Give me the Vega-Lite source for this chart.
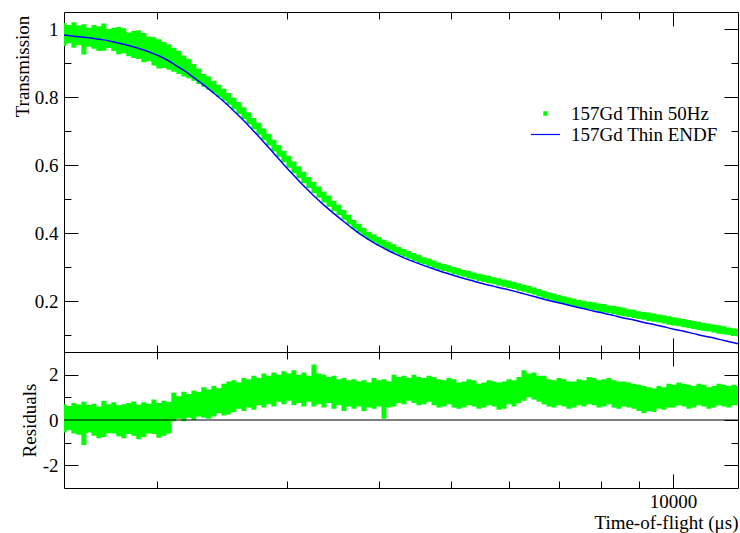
{
  "$schema": "https://vega.github.io/schema/vega-lite/v6.json",
  "width": 674,
  "height": 476,
  "autosize": {"type": "none"},
  "padding": {"left": 64, "top": 12, "right": 2, "bottom": 45},
  "background": "white",
  "config": {
    "view": {"stroke": null},
    "font": "Liberation Serif",
    "axis": {
      "grid": false,
      "domainColor": "black",
      "domainWidth": 1,
      "tickColor": "black",
      "tickWidth": 1,
      "labelFont": "Liberation Serif",
      "labelFontSize": 19,
      "labelColor": "black",
      "titleFont": "Liberation Serif",
      "titleFontSize": 19,
      "titleFontWeight": "normal",
      "titleColor": "black"
    }
  },
  "datasets": {
    "model": [
      {"t": 1496, "m": 0.982}, {"t": 1543, "m": 0.979}, {"t": 1592, "m": 0.976}, {"t": 1642, "m": 0.972},
      {"t": 1694, "m": 0.968}, {"t": 1747, "m": 0.962}, {"t": 1803, "m": 0.955}, {"t": 1860, "m": 0.947},
      {"t": 1919, "m": 0.938}, {"t": 1980, "m": 0.927}, {"t": 2043, "m": 0.914}, {"t": 2107, "m": 0.897},
      {"t": 2174, "m": 0.878}, {"t": 2243, "m": 0.857}, {"t": 2314, "m": 0.835}, {"t": 2388, "m": 0.811},
      {"t": 2464, "m": 0.786}, {"t": 2542, "m": 0.759}, {"t": 2622, "m": 0.730}, {"t": 2705, "m": 0.699},
      {"t": 2791, "m": 0.667}, {"t": 2880, "m": 0.634}, {"t": 2971, "m": 0.601}, {"t": 3065, "m": 0.569},
      {"t": 3162, "m": 0.538}, {"t": 3263, "m": 0.509}, {"t": 3366, "m": 0.482}, {"t": 3473, "m": 0.457},
      {"t": 3583, "m": 0.433}, {"t": 3697, "m": 0.410}, {"t": 3814, "m": 0.389}, {"t": 3935, "m": 0.371},
      {"t": 4060, "m": 0.355}, {"t": 4188, "m": 0.340}, {"t": 4321, "m": 0.327}, {"t": 4458, "m": 0.315},
      {"t": 4600, "m": 0.304}, {"t": 4745, "m": 0.294}, {"t": 4896, "m": 0.284}, {"t": 5051, "m": 0.275},
      {"t": 5211, "m": 0.266}, {"t": 5377, "m": 0.258}, {"t": 5547, "m": 0.250}, {"t": 5723, "m": 0.243},
      {"t": 5904, "m": 0.236}, {"t": 6092, "m": 0.229}, {"t": 6285, "m": 0.221}, {"t": 6484, "m": 0.213},
      {"t": 6690, "m": 0.205}, {"t": 6902, "m": 0.198}, {"t": 7121, "m": 0.191}, {"t": 7347, "m": 0.184},
      {"t": 7580, "m": 0.177}, {"t": 7821, "m": 0.170}, {"t": 8065, "m": 0.164}, {"t": 8320, "m": 0.157},
      {"t": 8583, "m": 0.150}, {"t": 8855, "m": 0.144}, {"t": 9135, "m": 0.137}, {"t": 9425, "m": 0.131},
      {"t": 9723, "m": 0.124}, {"t": 10031, "m": 0.117}, {"t": 10349, "m": 0.111}, {"t": 10678, "m": 0.104},
      {"t": 11015, "m": 0.097}, {"t": 11365, "m": 0.091}, {"t": 11724, "m": 0.084}, {"t": 12097, "m": 0.077},
      {"t": 12248, "m": 0.074}
    ],
    "band": [
      {"t": 1496, "lo": 0.950, "hi": 1.018, "rlo": -0.55, "rhi": 0.70},
      {"t": 1519, "lo": 0.958, "hi": 1.012, "rlo": -0.45, "rhi": 0.62},
      {"t": 1543, "lo": 0.945, "hi": 1.020, "rlo": -0.60, "rhi": 0.75},
      {"t": 1567, "lo": 0.952, "hi": 1.010, "rlo": -0.65, "rhi": 0.68},
      {"t": 1592, "lo": 0.925, "hi": 1.014, "rlo": -1.10, "rhi": 0.80},
      {"t": 1617, "lo": 0.948, "hi": 1.004, "rlo": -0.55, "rhi": 0.66},
      {"t": 1642, "lo": 0.942, "hi": 1.012, "rlo": -0.70, "rhi": 0.72},
      {"t": 1668, "lo": 0.935, "hi": 1.008, "rlo": -0.80, "rhi": 0.60},
      {"t": 1694, "lo": 0.936, "hi": 1.016, "rlo": -0.75, "rhi": 0.85},
      {"t": 1721, "lo": 0.944, "hi": 1.000, "rlo": -0.58, "rhi": 0.70},
      {"t": 1747, "lo": 0.935, "hi": 1.004, "rlo": -0.60, "rhi": 0.78},
      {"t": 1775, "lo": 0.926, "hi": 1.006, "rlo": -0.72, "rhi": 0.65},
      {"t": 1803, "lo": 0.928, "hi": 1.002, "rlo": -0.80, "rhi": 0.70},
      {"t": 1831, "lo": 0.920, "hi": 0.990, "rlo": -0.62, "rhi": 0.75},
      {"t": 1860, "lo": 0.915, "hi": 0.994, "rlo": -0.70, "rhi": 0.82},
      {"t": 1889, "lo": 0.912, "hi": 0.996, "rlo": -0.85, "rhi": 0.68},
      {"t": 1919, "lo": 0.902, "hi": 0.988, "rlo": -0.75, "rhi": 0.78},
      {"t": 1950, "lo": 0.905, "hi": 0.978, "rlo": -0.60, "rhi": 0.72},
      {"t": 1980, "lo": 0.893, "hi": 0.976, "rlo": -0.62, "rhi": 0.90},
      {"t": 2011, "lo": 0.884, "hi": 0.970, "rlo": -0.78, "rhi": 0.75},
      {"t": 2043, "lo": 0.885, "hi": 0.962, "rlo": -0.70, "rhi": 0.85},
      {"t": 2075, "lo": 0.880, "hi": 0.955, "rlo": -0.60, "rhi": 0.80},
      {"t": 2107, "lo": 0.874, "hi": 0.945, "rlo": -0.05, "rhi": 1.20},
      {"t": 2141, "lo": 0.868, "hi": 0.936, "rlo": 0.05, "rhi": 1.05},
      {"t": 2174, "lo": 0.860, "hi": 0.922, "rlo": -0.05, "rhi": 1.25},
      {"t": 2209, "lo": 0.855, "hi": 0.912, "rlo": 0.10, "rhi": 1.15},
      {"t": 2243, "lo": 0.848, "hi": 0.897, "rlo": 0.00, "rhi": 1.30},
      {"t": 2278, "lo": 0.838, "hi": 0.884, "rlo": 0.15, "rhi": 1.25},
      {"t": 2314, "lo": 0.830, "hi": 0.868, "rlo": 0.10, "rhi": 1.45},
      {"t": 2351, "lo": 0.821, "hi": 0.860, "rlo": 0.05, "rhi": 1.35},
      {"t": 2388, "lo": 0.811, "hi": 0.848, "rlo": 0.15, "rhi": 1.50},
      {"t": 2425, "lo": 0.800, "hi": 0.836, "rlo": 0.30, "rhi": 1.40},
      {"t": 2464, "lo": 0.789, "hi": 0.824, "rlo": 0.20, "rhi": 1.60},
      {"t": 2502, "lo": 0.777, "hi": 0.812, "rlo": 0.25, "rhi": 1.70},
      {"t": 2542, "lo": 0.764, "hi": 0.798, "rlo": 0.35, "rhi": 1.75},
      {"t": 2582, "lo": 0.750, "hi": 0.785, "rlo": 0.50, "rhi": 1.65},
      {"t": 2622, "lo": 0.735, "hi": 0.770, "rlo": 0.40, "rhi": 1.85},
      {"t": 2663, "lo": 0.720, "hi": 0.755, "rlo": 0.55, "rhi": 1.80},
      {"t": 2705, "lo": 0.705, "hi": 0.738, "rlo": 0.45, "rhi": 1.95},
      {"t": 2748, "lo": 0.689, "hi": 0.724, "rlo": 0.65, "rhi": 1.85},
      {"t": 2791, "lo": 0.673, "hi": 0.707, "rlo": 0.55, "rhi": 2.05},
      {"t": 2835, "lo": 0.657, "hi": 0.692, "rlo": 0.70, "rhi": 1.95},
      {"t": 2880, "lo": 0.640, "hi": 0.674, "rlo": 0.60, "rhi": 2.10},
      {"t": 2925, "lo": 0.624, "hi": 0.659, "rlo": 0.80, "rhi": 2.00},
      {"t": 2971, "lo": 0.608, "hi": 0.642, "rlo": 0.70, "rhi": 2.15},
      {"t": 3018, "lo": 0.592, "hi": 0.627, "rlo": 0.85, "rhi": 2.05},
      {"t": 3065, "lo": 0.576, "hi": 0.610, "rlo": 0.65, "rhi": 2.20},
      {"t": 3113, "lo": 0.561, "hi": 0.596, "rlo": 0.75, "rhi": 2.00},
      {"t": 3162, "lo": 0.546, "hi": 0.580, "rlo": 0.60, "rhi": 2.10},
      {"t": 3212, "lo": 0.532, "hi": 0.565, "rlo": 0.80, "rhi": 1.95},
      {"t": 3263, "lo": 0.518, "hi": 0.551, "rlo": 0.60, "rhi": 2.45},
      {"t": 3314, "lo": 0.504, "hi": 0.537, "rlo": 0.70, "rhi": 2.05},
      {"t": 3366, "lo": 0.490, "hi": 0.522, "rlo": 0.55, "rhi": 2.00},
      {"t": 3419, "lo": 0.477, "hi": 0.510, "rlo": 0.75, "rhi": 1.90},
      {"t": 3473, "lo": 0.464, "hi": 0.495, "rlo": 0.50, "rhi": 1.95},
      {"t": 3527, "lo": 0.452, "hi": 0.483, "rlo": 0.65, "rhi": 1.80},
      {"t": 3583, "lo": 0.439, "hi": 0.468, "rlo": 0.40, "rhi": 1.85},
      {"t": 3639, "lo": 0.425, "hi": 0.454, "rlo": 0.60, "rhi": 1.75},
      {"t": 3697, "lo": 0.412, "hi": 0.438, "rlo": 0.50, "rhi": 1.80},
      {"t": 3754, "lo": 0.401, "hi": 0.427, "rlo": 0.60, "rhi": 1.70},
      {"t": 3814, "lo": 0.390, "hi": 0.415, "rlo": 0.40, "rhi": 1.75},
      {"t": 3874, "lo": 0.380, "hi": 0.404, "rlo": 0.55, "rhi": 1.65},
      {"t": 3935, "lo": 0.372, "hi": 0.396, "rlo": 0.50, "rhi": 1.85},
      {"t": 3997, "lo": 0.363, "hi": 0.388, "rlo": 0.60, "rhi": 1.75},
      {"t": 4060, "lo": 0.356, "hi": 0.380, "rlo": 0.05, "rhi": 1.80},
      {"t": 4123, "lo": 0.349, "hi": 0.374, "rlo": 0.55, "rhi": 1.70},
      {"t": 4188, "lo": 0.342, "hi": 0.367, "rlo": 0.60, "rhi": 2.00},
      {"t": 4254, "lo": 0.335, "hi": 0.359, "rlo": 0.75, "rhi": 1.90},
      {"t": 4321, "lo": 0.330, "hi": 0.353, "rlo": 0.70, "rhi": 1.95},
      {"t": 4389, "lo": 0.324, "hi": 0.347, "rlo": 0.85, "rhi": 1.85},
      {"t": 4458, "lo": 0.318, "hi": 0.341, "rlo": 0.75, "rhi": 2.00},
      {"t": 4528, "lo": 0.312, "hi": 0.335, "rlo": 0.65, "rhi": 1.90},
      {"t": 4600, "lo": 0.307, "hi": 0.329, "rlo": 0.70, "rhi": 1.85},
      {"t": 4672, "lo": 0.302, "hi": 0.325, "rlo": 0.80, "rhi": 1.95},
      {"t": 4745, "lo": 0.297, "hi": 0.319, "rlo": 0.65, "rhi": 1.90},
      {"t": 4820, "lo": 0.292, "hi": 0.313, "rlo": 0.55, "rhi": 1.80},
      {"t": 4896, "lo": 0.288, "hi": 0.309, "rlo": 0.60, "rhi": 1.75},
      {"t": 4973, "lo": 0.284, "hi": 0.305, "rlo": 0.70, "rhi": 1.85},
      {"t": 5051, "lo": 0.279, "hi": 0.300, "rlo": 0.55, "rhi": 1.80},
      {"t": 5129, "lo": 0.275, "hi": 0.296, "rlo": 0.50, "rhi": 1.65},
      {"t": 5211, "lo": 0.271, "hi": 0.291, "rlo": 0.55, "rhi": 1.70},
      {"t": 5292, "lo": 0.266, "hi": 0.288, "rlo": 0.65, "rhi": 1.80},
      {"t": 5377, "lo": 0.263, "hi": 0.284, "rlo": 0.60, "rhi": 1.75},
      {"t": 5460, "lo": 0.259, "hi": 0.280, "rlo": 0.50, "rhi": 1.60},
      {"t": 5547, "lo": 0.256, "hi": 0.277, "rlo": 0.55, "rhi": 1.65},
      {"t": 5633, "lo": 0.252, "hi": 0.274, "rlo": 0.65, "rhi": 1.75},
      {"t": 5723, "lo": 0.249, "hi": 0.270, "rlo": 0.60, "rhi": 1.70},
      {"t": 5811, "lo": 0.245, "hi": 0.267, "rlo": 0.45, "rhi": 1.65},
      {"t": 5904, "lo": 0.242, "hi": 0.263, "rlo": 0.50, "rhi": 1.70},
      {"t": 5995, "lo": 0.238, "hi": 0.260, "rlo": 0.70, "rhi": 1.80},
      {"t": 6092, "lo": 0.235, "hi": 0.256, "rlo": 0.60, "rhi": 1.75},
      {"t": 6185, "lo": 0.230, "hi": 0.252, "rlo": 0.75, "rhi": 1.90},
      {"t": 6285, "lo": 0.227, "hi": 0.248, "rlo": 0.85, "rhi": 2.20},
      {"t": 6381, "lo": 0.223, "hi": 0.245, "rlo": 1.00, "rhi": 2.05},
      {"t": 6484, "lo": 0.219, "hi": 0.240, "rlo": 0.90, "rhi": 2.10},
      {"t": 6584, "lo": 0.213, "hi": 0.235, "rlo": 0.80, "rhi": 1.95},
      {"t": 6690, "lo": 0.208, "hi": 0.230, "rlo": 0.70, "rhi": 1.95},
      {"t": 6792, "lo": 0.204, "hi": 0.226, "rlo": 0.60, "rhi": 1.80},
      {"t": 6902, "lo": 0.199, "hi": 0.222, "rlo": 0.55, "rhi": 1.75},
      {"t": 7008, "lo": 0.195, "hi": 0.218, "rlo": 0.65, "rhi": 1.85},
      {"t": 7121, "lo": 0.191, "hi": 0.214, "rlo": 0.60, "rhi": 1.80},
      {"t": 7230, "lo": 0.186, "hi": 0.210, "rlo": 0.50, "rhi": 1.70},
      {"t": 7347, "lo": 0.182, "hi": 0.207, "rlo": 0.55, "rhi": 1.70},
      {"t": 7458, "lo": 0.180, "hi": 0.203, "rlo": 0.65, "rhi": 1.80},
      {"t": 7580, "lo": 0.177, "hi": 0.201, "rlo": 0.60, "rhi": 1.75},
      {"t": 7695, "lo": 0.174, "hi": 0.198, "rlo": 0.70, "rhi": 1.90},
      {"t": 7821, "lo": 0.172, "hi": 0.196, "rlo": 0.65, "rhi": 1.85},
      {"t": 7939, "lo": 0.168, "hi": 0.193, "rlo": 0.55, "rhi": 1.75},
      {"t": 8065, "lo": 0.166, "hi": 0.191, "rlo": 0.60, "rhi": 1.80},
      {"t": 8190, "lo": 0.164, "hi": 0.187, "rlo": 0.70, "rhi": 1.85},
      {"t": 8320, "lo": 0.161, "hi": 0.185, "rlo": 0.55, "rhi": 1.75},
      {"t": 8449, "lo": 0.157, "hi": 0.183, "rlo": 0.50, "rhi": 1.70},
      {"t": 8583, "lo": 0.155, "hi": 0.180, "rlo": 0.60, "rhi": 1.70},
      {"t": 8717, "lo": 0.153, "hi": 0.176, "rlo": 0.55, "rhi": 1.65},
      {"t": 8855, "lo": 0.150, "hi": 0.174, "rlo": 0.50, "rhi": 1.60},
      {"t": 8993, "lo": 0.147, "hi": 0.170, "rlo": 0.40, "rhi": 1.55},
      {"t": 9135, "lo": 0.145, "hi": 0.168, "rlo": 0.30, "rhi": 1.50},
      {"t": 9278, "lo": 0.141, "hi": 0.166, "rlo": 0.40, "rhi": 1.45},
      {"t": 9425, "lo": 0.139, "hi": 0.163, "rlo": 0.35, "rhi": 1.40},
      {"t": 9572, "lo": 0.137, "hi": 0.160, "rlo": 0.50, "rhi": 1.50},
      {"t": 9723, "lo": 0.134, "hi": 0.158, "rlo": 0.45, "rhi": 1.45},
      {"t": 9875, "lo": 0.130, "hi": 0.155, "rlo": 0.55, "rhi": 1.60},
      {"t": 10031, "lo": 0.128, "hi": 0.152, "rlo": 0.55, "rhi": 1.55},
      {"t": 10188, "lo": 0.126, "hi": 0.149, "rlo": 0.65, "rhi": 1.65},
      {"t": 10349, "lo": 0.123, "hi": 0.147, "rlo": 0.60, "rhi": 1.60},
      {"t": 10512, "lo": 0.120, "hi": 0.144, "rlo": 0.50, "rhi": 1.55},
      {"t": 10678, "lo": 0.118, "hi": 0.141, "rlo": 0.55, "rhi": 1.50},
      {"t": 10844, "lo": 0.115, "hi": 0.139, "rlo": 0.65, "rhi": 1.60},
      {"t": 11015, "lo": 0.112, "hi": 0.136, "rlo": 0.60, "rhi": 1.55},
      {"t": 11188, "lo": 0.110, "hi": 0.133, "rlo": 0.50, "rhi": 1.45},
      {"t": 11365, "lo": 0.107, "hi": 0.131, "rlo": 0.55, "rhi": 1.50},
      {"t": 11543, "lo": 0.104, "hi": 0.129, "rlo": 0.65, "rhi": 1.60},
      {"t": 11724, "lo": 0.102, "hi": 0.126, "rlo": 0.60, "rhi": 1.55},
      {"t": 11909, "lo": 0.100, "hi": 0.122, "rlo": 0.55, "rhi": 1.50},
      {"t": 12097, "lo": 0.097, "hi": 0.120, "rlo": 0.65, "rhi": 1.55},
      {"t": 12248, "lo": 0.096, "hi": 0.118, "rlo": 0.65, "rhi": 1.50}
    ]
  },
  "resolve": {"scale": {"y": "independent"}, "axis": {"x": "independent", "y": "independent"}},
  "layer": [
    {
      "data": {"name": "band"},
      "mark": {"type": "area", "interpolate": "step", "clip": true},
      "encoding": {
        "x": {"field": "t", "type": "quantitative",
          "scale": {"type": "log", "domain": [1496, 12250], "nice": false},
          "axis": {"orient": "top", "values": [2000, 3000, 4000, 5000, 6000, 7000, 8000, 9000, 10000], "labels": false, "title": null,
            "tickSize": {"condition": {"test": "datum.value == 10000", "value": -14}, "value": -7}}},
        "y": {"field": "lo", "type": "quantitative",
          "scale": {"domain": [0.05, 1.05], "range": [340, 0], "nice": false, "zero": false},
          "axis": {"orient": "left", "values": [0.1, 0.2, 0.3, 0.4, 0.5, 0.6, 0.7, 0.8, 0.9, 1],
            "labelExpr": "round(datum.value*10) % 2 == 0 ? format(datum.value, '~g') : ''",
            "tickSize": {"condition": {"test": "round(datum.value*10) % 2 == 0", "value": -14}, "value": -7},
            "labelPadding": 20,
            "title": "Transmission", "titleX": -42, "titleY": 54, "titleAngle": 270, "titleAlign": "center", "titleBaseline": "middle"}},
        "y2": {"field": "hi"},
        "color": {"datum": "157Gd Thin 50Hz",
          "scale": {"domain": ["157Gd Thin 50Hz", "157Gd Thin ENDF"], "range": ["#00ff00", "#0000ff"]},
          "legend": {"title": null, "orient": "none", "legendX": 472, "legendY": 92, "padding": 0,
            "symbolSize": 100, "labelFont": "Liberation Serif", "labelFontSize": 19, "labelColor": "black",
            "labelOffset": 16, "rowPadding": 1,
            "encode": {"symbols": {"update": {
              "shape": {"signal": "datum.value == '157Gd Thin ENDF' ? 'stroke' : 'square'"},
              "size": {"signal": "datum.value == '157Gd Thin ENDF' ? 841 : 10"},
              "fill": {"signal": "datum.value == '157Gd Thin ENDF' ? 'transparent' : '#00ff00'"},
              "stroke": {"signal": "datum.value == '157Gd Thin ENDF' ? '#0000ff' : 'transparent'"},
              "strokeWidth": {"value": 1.2},
              "opacity": {"value": 1}
            }}}}}
      }
    },
    {
      "data": {"name": "model"},
      "mark": {"type": "line", "interpolate": "monotone", "strokeWidth": 1.5, "clip": true},
      "encoding": {
        "x": {"field": "t", "type": "quantitative",
          "scale": {"type": "log", "domain": [1496, 12250], "nice": false},
          "axis": {"orient": "bottom", "offset": -136, "values": [2000, 3000, 4000, 5000, 6000, 7000, 8000, 9000, 10000], "labels": false, "title": null,
            "tickSize": {"condition": {"test": "datum.value == 10000", "value": -14}, "value": -7}}},
        "y": {"field": "m", "type": "quantitative",
          "scale": {"domain": [0.05, 1.05], "range": [340, 0], "nice": false, "zero": false},
          "axis": {"orient": "right", "values": [0.1, 0.2, 0.3, 0.4, 0.5, 0.6, 0.7, 0.8, 0.9, 1], "labels": false, "title": null,
            "tickSize": {"condition": {"test": "round(datum.value*10) % 2 == 0", "value": -14}, "value": -7}}},
        "color": {"datum": "157Gd Thin ENDF"}
      }
    },
    {
      "data": {"name": "band"},
      "mark": {"type": "area", "interpolate": "step", "color": "#00ff00", "clip": true},
      "encoding": {
        "x": {"field": "t", "type": "quantitative",
          "scale": {"type": "log", "domain": [1496, 12250], "nice": false},
          "axis": {"orient": "bottom", "values": [2000, 3000, 4000, 5000, 6000, 7000, 8000, 9000, 10000],
            "labelExpr": "datum.value == 10000 ? '10000' : ''", "labelPadding": 18,
            "tickSize": {"condition": {"test": "datum.value == 10000", "value": -14}, "value": -7},
            "title": "Time-of-flight (μs)", "titleAnchor": "end", "titleY": 25, "titleBaseline": "top"}},
        "y": {"field": "rlo", "type": "quantitative",
          "scale": {"domain": [-3, 3], "range": [476, 340], "nice": false, "zero": false},
          "axis": {"orient": "left", "values": [-2, -1, 0, 1, 2],
            "labelExpr": "datum.value == 2 ? '2' : datum.value == 0 ? '0' : datum.value == -2 ? '-2' : ''",
            "tickSize": {"condition": {"test": "datum.value % 2 == 0", "value": -14}, "value": -7},
            "labelPadding": 20,
            "title": "Residuals", "titleX": -35, "titleY": 408, "titleAngle": 270, "titleAlign": "center", "titleBaseline": "middle"}},
        "y2": {"field": "rhi"}
      }
    },
    {
      "data": {"name": "model"},
      "mark": {"type": "line", "color": "black", "strokeWidth": 1.2},
      "encoding": {
        "x": {"field": "t", "type": "quantitative",
          "scale": {"type": "log", "domain": [1496, 12250], "nice": false},
          "axis": {"orient": "top", "offset": -340, "values": [2000, 3000, 4000, 5000, 6000, 7000, 8000, 9000, 10000], "labels": false, "title": null,
            "tickSize": {"condition": {"test": "datum.value == 10000", "value": -14}, "value": -7}}},
        "y": {"datum": 0, "type": "quantitative",
          "scale": {"domain": [-3, 3], "range": [476, 340], "nice": false, "zero": false},
          "axis": {"orient": "right", "values": [-2, -1, 0, 1, 2], "labels": false, "title": null,
            "tickSize": {"condition": {"test": "datum.value % 2 == 0", "value": -14}, "value": -7}}}
      }
    }
  ]
}
